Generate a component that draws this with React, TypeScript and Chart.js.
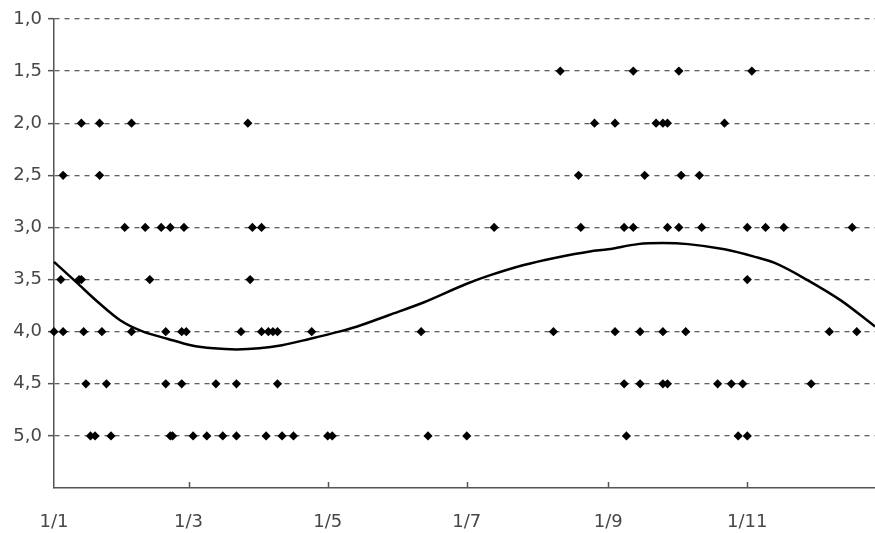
import { useEffect, useRef } from 'react';
import { Chart, registerables } from 'chart.js';

Chart.register(...registerables);

// x axis: day of year (0 = 1 January)
const xTickDays = [0, 59, 120, 181, 243, 304];
const xTickLabels = ['1/1', '1/3', '1/5', '1/7', '1/9', '1/11'];
const yTickValues = [1, 1.5, 2, 2.5, 3, 3.5, 4, 4.5, 5];

// observation days for each score level
const days15 = [222, 254, 274, 306];
const days20 = [12, 20, 34, 85, 237, 246, 264, 267, 269, 294];
const days25 = [4, 20, 230, 259, 275, 283];
const days30 = [31, 40, 47, 51, 57, 87, 91, 193, 231, 250, 254, 269, 274, 284, 304, 312, 320, 350];
const days35 = [3, 11, 12, 42, 86, 304];
const days40 = [0, 4, 13, 21, 34, 49, 56, 58, 82, 91, 94, 96, 98, 113, 161, 219, 246, 257, 267, 277, 340, 352];
const days45 = [14, 23, 49, 56, 71, 80, 98, 250, 257, 267, 269, 291, 297, 302, 332];
const days50 = [16, 18, 25, 51, 52, 61, 67, 74, 80, 93, 100, 105, 120, 122, 164, 181, 251, 300, 304];

// trend curve
const trendDays = [0, 10, 20, 29, 38, 50, 60, 70, 80, 90, 100, 112, 125, 133, 147, 162, 181, 191, 206, 220, 235, 243, 256, 267, 278, 294, 307, 316, 330, 345, 360];
const trendValues = [3.33, 3.53, 3.73, 3.89, 3.99, 4.07, 4.13, 4.16, 4.17, 4.16, 4.13, 4.07, 4.0, 3.95, 3.84, 3.72, 3.54, 3.46, 3.36, 3.29, 3.23, 3.21, 3.16, 3.15, 3.16, 3.21, 3.28, 3.34, 3.5, 3.7, 3.95];

const levelGroups: [number, number[]][] = [
  [1.5, days15], [2.0, days20], [2.5, days25], [3.0, days30],
  [3.5, days35], [4.0, days40], [4.5, days45], [5.0, days50],
];

const FONT = { family: "'DejaVu Sans', Verdana, sans-serif", size: 18 };
const AXIS_COLOR = '#555555';
const TEXT_COLOR = '#474747';

const innerTicks = {
  id: 'innerTicks',
  afterDraw(chart: any) {
    const xs = chart.scales.x;
    const { ctx, chartArea } = chart;
    ctx.save();
    ctx.strokeStyle = AXIS_COLOR;
    ctx.lineWidth = 1.5;
    xs.ticks.forEach((t: any) => {
      if (t.value === xs.min) return;
      const px = Math.round(xs.getPixelForValue(t.value)) + 0.5;
      ctx.beginPath();
      ctx.moveTo(px, chartArea.bottom);
      ctx.lineTo(px, chartArea.bottom - 6);
      ctx.stroke();
    });
    ctx.restore();
  },
};

export default function App() {
  const ref = useRef<HTMLCanvasElement | null>(null);

  useEffect(() => {
    if (!ref.current) return;
    const points: { x: number; y: number }[] = [];
    levelGroups.forEach(([level, days]) => {
      days.forEach((d) => points.push({ x: d, y: level }));
    });
    const trend = trendDays.map((d, i) => ({ x: d, y: trendValues[i] }));

    const chart = new Chart(ref.current, {
      type: 'scatter',
      data: {
        datasets: [
          {
            type: 'line',
            data: trend,
            borderColor: '#000000',
            borderWidth: 2.5,
            pointRadius: 0,
            fill: false,
            cubicInterpolationMode: 'monotone',
            clip: false,
          } as any,
          {
            type: 'scatter',
            data: points,
            pointStyle: 'rectRot',
            pointRadius: 4.6,
            pointBackgroundColor: '#000000',
            pointBorderColor: '#000000',
            pointBorderWidth: 0,
            clip: false,
          } as any,
        ],
      },
      options: {
        animation: false,
        responsive: false,
        layout: { autoPadding: false, padding: { top: 19, right: -5, bottom: 0, left: 0 } },
        plugins: { legend: { display: false }, tooltip: { enabled: false } },
        scales: {
          x: {
            type: 'linear',
            min: 0,
            max: 360,
            afterBuildTicks: (s: any) => {
              s.ticks = xTickDays.map((v) => ({ value: v }));
            },
            afterFit: (s: any) => {
              s.height = 45;
              s.paddingLeft = 0;
              s.paddingRight = 0;
            },
            ticks: {
              autoSkip: false,
              maxRotation: 0,
              padding: 24,
              color: TEXT_COLOR,
              font: FONT,
              callback: (_v: any, i: number) => xTickLabels[i] ?? '',
            },
            grid: { display: false, drawTicks: false },
            border: { display: true, color: AXIS_COLOR, width: 1.5 },
          },
          y: {
            type: 'linear',
            reverse: true,
            min: 1,
            max: 5.5,
            afterBuildTicks: (s: any) => {
              s.ticks = yTickValues.map((v) => ({ value: v }));
            },
            afterFit: (s: any) => {
              s.width = 54;
              s.paddingTop = 0;
              s.paddingBottom = 0;
            },
            ticks: {
              padding: 6,
              color: TEXT_COLOR,
              font: FONT,
              callback: (v: any) => Number(v).toFixed(1).replace('.', ','),
            },
            grid: {
              color: '#5f5f5f',
              lineWidth: 1.3,
              drawTicks: true,
              tickLength: 6,
              tickColor: AXIS_COLOR,
              tickWidth: 1.5,
              tickBorderDash: [],
            } as any,
            border: { display: true, color: AXIS_COLOR, width: 1.5, dash: [5, 5] },
          },
        },
      },
      plugins: [innerTicks],
    } as any);
    return () => chart.destroy();
  }, []);

  return (
    <div style={{ position: 'fixed', left: 0, top: 0, width: 875, height: 533, background: '#ffffff' }}>
      <canvas ref={ref} width={875} height={533} />
    </div>
  );
}
